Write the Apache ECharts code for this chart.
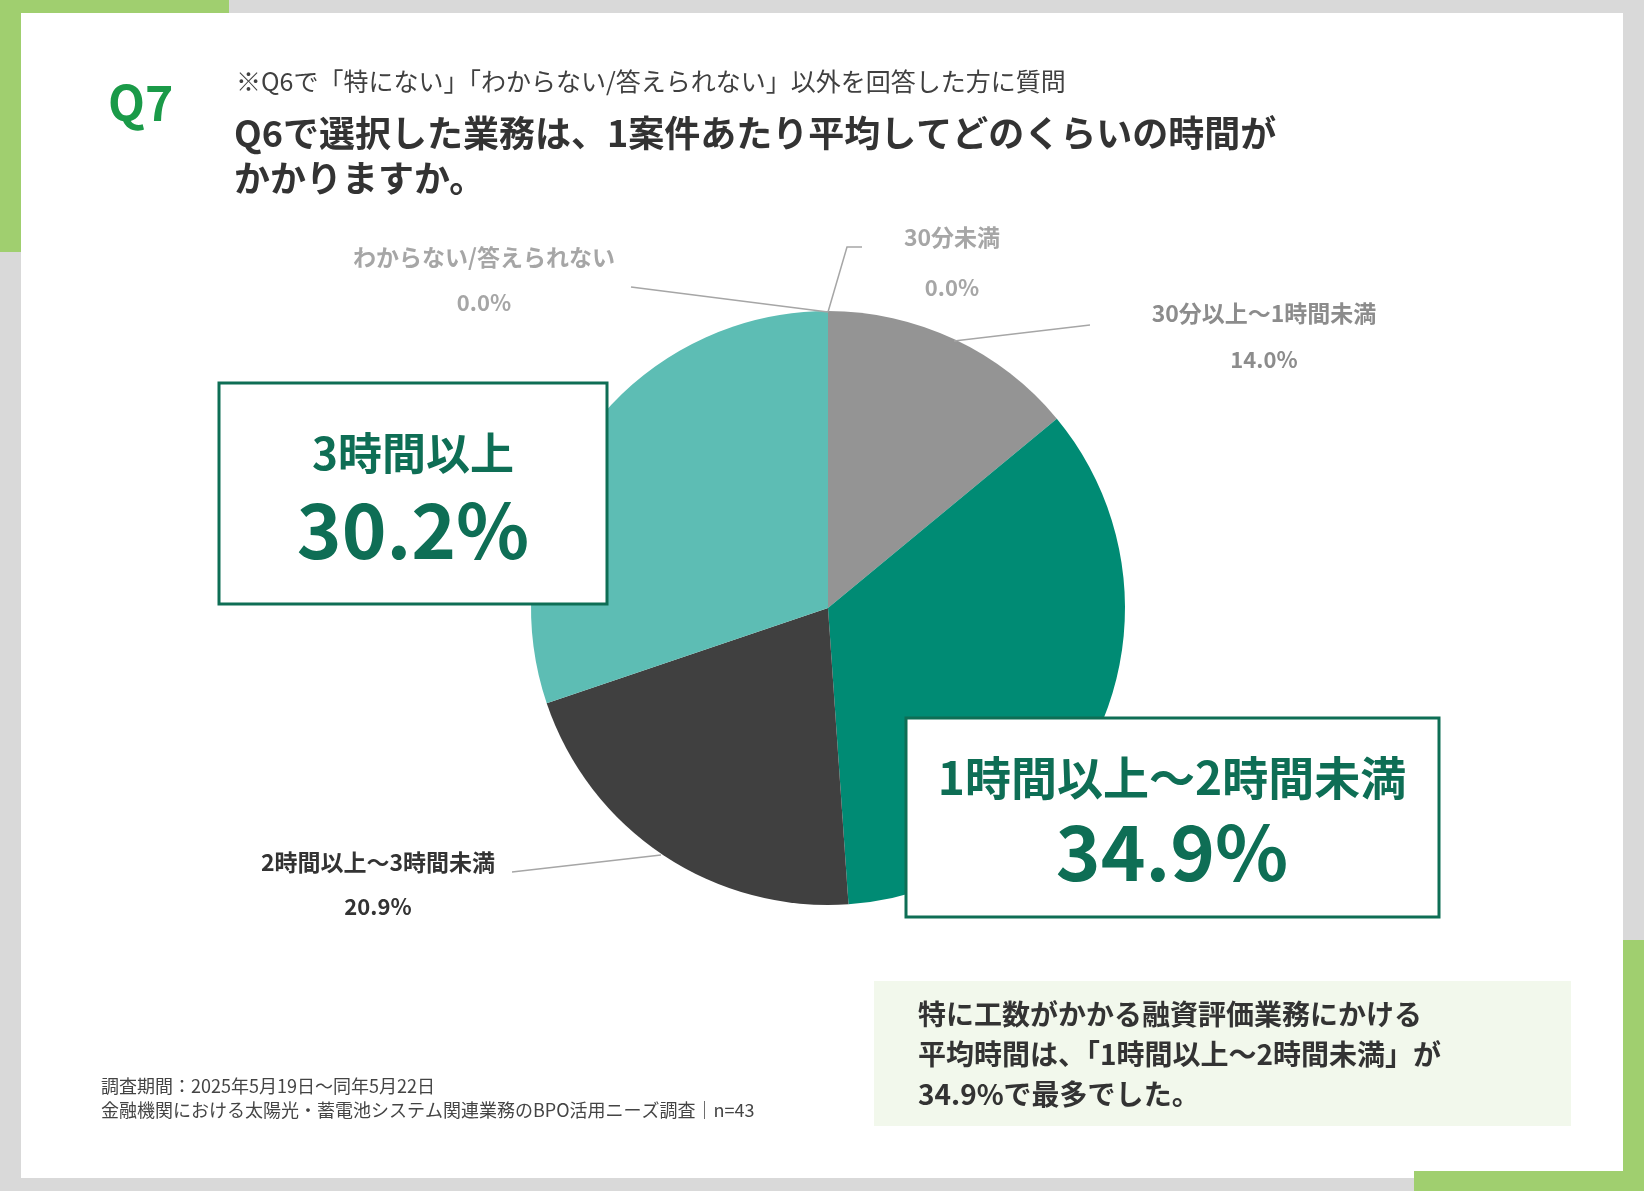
<!DOCTYPE html>
<html><head><meta charset="utf-8">
<script src="https://cdn.jsdelivr.net/npm/echarts@6/dist/echarts.min.js"></script>
<style>html,body{margin:0;padding:0;background:#d9d9d9}#c{width:1644px;height:1191px}</style>
</head><body><div id="c"></div>
<script>
const categories = ['30分未満', '30分以上～1時間未満', '1時間以上～2時間未満', '2時間以上～3時間未満', '3時間以上', 'わからない/答えられない'];
const values = [0.0, 14.0, 34.9, 20.9, 30.2, 0.0];
const colors = ['#a6a6a6', '#949494', '#008b74', '#404040', '#5dbdb4', '#bfbfbf'];

const F = '"Noto Sans CJK JP", "Noto Sans", sans-serif';
const pct = i => values[i].toFixed(1) + '%';

function txt(x, y, s, size, color, weight, align) {
    return { type: 'text', x: x, y: y, z: 10, style: { text: s, font: (weight || 'normal') + ' ' + size + 'px ' + F, fill: color, align: align || 'left', verticalAlign: 'middle' } };
}
function line(pts) {
    return { type: 'polyline', z: 5, shape: { points: pts }, style: { stroke: '#a6a6a6', lineWidth: 1.5, fill: null } };
}

const chart = echarts.init(document.getElementById('c'));
chart.setOption({
    backgroundColor: '#d9d9d9',
    animation: false,
    graphic: [
        { type: 'rect', z: -10, shape: { x: 21, y: 13, width: 1602, height: 1165 }, style: { fill: '#ffffff' } },
        { type: 'rect', z: -9, shape: { x: 0, y: 0, width: 229, height: 13 }, style: { fill: '#a0cf6f' } },
        { type: 'rect', z: -9, shape: { x: 0, y: 0, width: 21, height: 252 }, style: { fill: '#a0cf6f' } },
        { type: 'rect', z: -9, shape: { x: 1623, y: 940, width: 21, height: 251 }, style: { fill: '#a0cf6f' } },
        { type: 'rect', z: -9, shape: { x: 1414, y: 1171, width: 230, height: 20 }, style: { fill: '#a0cf6f' } },

        txt(108, 103, 'Q7', 48, '#1a9a48', 'bold'),
        txt(236, 81, '※Q6で「特にない」「わからない/答えられない」以外を回答した方に質問', 25, '#404040'),
        txt(234, 133, 'Q6で選択した業務は、1案件あたり平均してどのくらいの時間が', 36, '#333333', 'bold'),
        txt(234, 178, 'かかりますか。', 36, '#333333', 'bold'),

        // leader lines
        line([[828, 312], [631, 287]]),
        line([[828, 312], [847, 247], [862, 247]]),
        line([[954, 341], [1090, 325]]),
        line([[661, 855], [512, 872]]),

        txt(484, 257, categories[5], 23, '#a6a6a6', 'bold', 'center'),
        txt(484, 303, pct(5), 22, '#a6a6a6', 'bold', 'center'),
        txt(952, 237, categories[0], 23, '#a6a6a6', 'bold', 'center'),
        txt(952, 288, pct(0), 22, '#a6a6a6', 'bold', 'center'),
        txt(1264, 313, categories[1], 23, '#8c8c8c', 'bold', 'center'),
        txt(1264, 360, pct(1), 22, '#8c8c8c', 'bold', 'center'),
        txt(378, 862, categories[3], 23, '#333333', 'bold', 'center'),
        txt(378, 907, pct(3), 22, '#333333', 'bold', 'center'),

        { type: 'rect', z: 8, shape: { x: 219, y: 383, width: 388, height: 221 }, style: { fill: '#ffffff', stroke: '#0e6e55', lineWidth: 3 } },
        txt(413, 453, categories[4], 44, '#0e6e55', 'bold', 'center'),
        txt(413, 530, pct(4), 76, '#0e6e55', 'bold', 'center'),
        { type: 'rect', z: 8, shape: { x: 906, y: 718, width: 533, height: 199 }, style: { fill: '#ffffff', stroke: '#0e6e55', lineWidth: 3 } },
        txt(1172, 778, categories[2], 46, '#0e6e55', 'bold', 'center'),
        txt(1172, 852, pct(2), 76, '#0e6e55', 'bold', 'center'),

        { type: 'rect', z: 1, shape: { x: 874, y: 981, width: 697, height: 145 }, style: { fill: '#f2f8ec' } },
        txt(918, 1014, '特に工数がかかる融資評価業務にかける', 28, '#333333', 'bold'),
        txt(918, 1054, '平均時間は、「1時間以上～2時間未満」が', 28, '#333333', 'bold'),
        txt(918, 1094, '34.9%で最多でした。', 28, '#333333', 'bold'),

        txt(101, 1086, '調査期間：2025年5月19日～同年5月22日', 18, '#444444'),
        txt(101, 1110, '金融機関における太陽光・蓄電池システム関連業務のBPO活用ニーズ調査｜n=43', 18, '#444444')
    ],
    series: [{
        type: 'pie',
        center: [828, 608],
        radius: [0, 297],
        startAngle: 90,
        clockwise: true,
        label: { show: false },
        labelLine: { show: false },
        silent: true,
        data: categories.map((c, i) => ({ name: c, value: values[i], itemStyle: { color: colors[i] } }))
    }]
});
</script></body></html>
